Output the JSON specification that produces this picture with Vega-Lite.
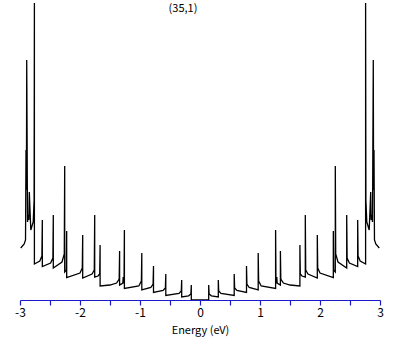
{
  "$schema": "https://vega.github.io/schema/vega-lite/v6.json",
  "width": 360,
  "height": 300,
  "autosize": {"type": "none"},
  "padding": {"left": 20, "top": 0, "right": 29, "bottom": 45},
  "background": "white",
  "title": {"text": "(35,1)", "offset": -14, "dx": -17, "fontSize": 11, "font": "Noto Sans CJK JP", "fontWeight": "normal", "color": "black"},
  "config": {"view": {"stroke": null}},
  "data": {"values": [
    {"i":1,"e":-2.988,"d":52},{"i":2,"e":-2.93,"d":56},{"i":3,"e":-2.908,"d":60},{"i":4,"e":-2.9,"d":150},{"i":5,"e":-2.893,"d":110},
    {"i":6,"e":-2.888,"d":240},{"i":7,"e":-2.875,"d":78},{"i":8,"e":-2.862,"d":85},{"i":9,"e":-2.852,"d":80},{"i":10,"e":-2.845,"d":108},
    {"i":11,"e":-2.82,"d":70},{"i":12,"e":-2.78,"d":78},{"i":13,"e":-2.765,"d":100},{"i":14,"e":-2.76,"d":297},{"i":15,"e":-2.76,"d":36},
    {"i":16,"e":-2.67,"d":39},{"i":17,"e":-2.635,"d":44},{"i":18,"e":-2.628,"d":80},{"i":19,"e":-2.628,"d":33.5},{"i":20,"e":-2.49,"d":37},
    {"i":21,"e":-2.452,"d":42},{"i":22,"e":-2.445,"d":85},{"i":23,"e":-2.445,"d":32},{"i":24,"e":-2.3,"d":38},{"i":25,"e":-2.262,"d":46},
    {"i":26,"e":-2.255,"d":134},{"i":27,"e":-2.255,"d":28},{"i":28,"e":-2.228,"d":30},{"i":29,"e":-2.222,"d":69},{"i":30,"e":-2.222,"d":22.5},
    {"i":31,"e":-2.0,"d":27},{"i":32,"e":-1.962,"d":32},{"i":33,"e":-1.955,"d":65},{"i":34,"e":-1.955,"d":22},{"i":35,"e":-1.8,"d":26},
    {"i":36,"e":-1.762,"d":30},{"i":37,"e":-1.755,"d":85},{"i":38,"e":-1.755,"d":23},{"i":39,"e":-1.7,"d":24},{"i":40,"e":-1.672,"d":26},
    {"i":41,"e":-1.665,"d":55},{"i":42,"e":-1.665,"d":14},{"i":43,"e":-1.5,"d":15},{"i":44,"e":-1.39,"d":17},{"i":45,"e":-1.347,"d":21},
    {"i":46,"e":-1.34,"d":49},{"i":47,"e":-1.34,"d":15},{"i":48,"e":-1.286,"d":17},{"i":49,"e":-1.28,"d":23},{"i":50,"e":-1.28,"d":17},
    {"i":51,"e":-1.266,"d":20},{"i":52,"e":-1.26,"d":70},{"i":53,"e":-1.26,"d":11.5},{"i":54,"e":-1.02,"d":14},{"i":55,"e":-0.977,"d":19},
    {"i":56,"e":-0.97,"d":47},{"i":57,"e":-0.97,"d":10},{"i":58,"e":-0.82,"d":12.5},{"i":59,"e":-0.782,"d":16},{"i":60,"e":-0.775,"d":34},
    {"i":61,"e":-0.775,"d":7.5},{"i":62,"e":-0.615,"d":9.5},{"i":63,"e":-0.577,"d":12},{"i":64,"e":-0.57,"d":26},{"i":65,"e":-0.57,"d":4.5},
    {"i":66,"e":-0.35,"d":6.5},{"i":67,"e":-0.312,"d":9},{"i":68,"e":-0.305,"d":20},{"i":69,"e":-0.305,"d":3},{"i":70,"e":-0.19,"d":4.2},
    {"i":71,"e":-0.152,"d":6},{"i":72,"e":-0.145,"d":15},{"i":73,"e":-0.145,"d":0},
    {"i":74,"e":0.145,"d":0},{"i":75,"e":0.145,"d":15},{"i":76,"e":0.152,"d":6},{"i":77,"e":0.19,"d":4.2},{"i":78,"e":0.305,"d":3},
    {"i":79,"e":0.305,"d":20},{"i":80,"e":0.312,"d":9},{"i":81,"e":0.35,"d":6.5},{"i":82,"e":0.57,"d":4.5},{"i":83,"e":0.57,"d":26},
    {"i":84,"e":0.577,"d":12},{"i":85,"e":0.615,"d":9.5},{"i":86,"e":0.775,"d":7.5},{"i":87,"e":0.775,"d":34},{"i":88,"e":0.782,"d":16},
    {"i":89,"e":0.82,"d":12.5},{"i":90,"e":0.97,"d":10},{"i":91,"e":0.97,"d":47},{"i":92,"e":0.977,"d":19},{"i":93,"e":1.02,"d":14},
    {"i":94,"e":1.26,"d":11.5},{"i":95,"e":1.26,"d":70},{"i":96,"e":1.266,"d":20},{"i":97,"e":1.28,"d":17},{"i":98,"e":1.28,"d":23},
    {"i":99,"e":1.286,"d":17},{"i":100,"e":1.34,"d":15},{"i":101,"e":1.34,"d":49},{"i":102,"e":1.347,"d":21},{"i":103,"e":1.39,"d":17},
    {"i":104,"e":1.5,"d":15},{"i":105,"e":1.665,"d":14},{"i":106,"e":1.665,"d":55},{"i":107,"e":1.672,"d":26},{"i":108,"e":1.7,"d":24},
    {"i":109,"e":1.755,"d":23},{"i":110,"e":1.755,"d":85},{"i":111,"e":1.762,"d":30},{"i":112,"e":1.8,"d":26},{"i":113,"e":1.955,"d":22},
    {"i":114,"e":1.955,"d":65},{"i":115,"e":1.962,"d":32},{"i":116,"e":2.0,"d":27},{"i":117,"e":2.222,"d":22.5},{"i":118,"e":2.222,"d":69},
    {"i":119,"e":2.228,"d":30},{"i":120,"e":2.255,"d":28},{"i":121,"e":2.255,"d":134},{"i":122,"e":2.262,"d":46},{"i":123,"e":2.3,"d":38},
    {"i":124,"e":2.445,"d":32},{"i":125,"e":2.445,"d":85},{"i":126,"e":2.452,"d":42},{"i":127,"e":2.49,"d":37},{"i":128,"e":2.628,"d":33.5},
    {"i":129,"e":2.628,"d":80},{"i":130,"e":2.635,"d":44},{"i":131,"e":2.67,"d":39},{"i":132,"e":2.76,"d":36},{"i":133,"e":2.76,"d":297},
    {"i":134,"e":2.765,"d":100},{"i":135,"e":2.78,"d":78},{"i":136,"e":2.82,"d":70},{"i":137,"e":2.845,"d":108},{"i":138,"e":2.852,"d":80},
    {"i":139,"e":2.862,"d":85},{"i":140,"e":2.875,"d":78},{"i":141,"e":2.888,"d":240},{"i":142,"e":2.893,"d":110},{"i":143,"e":2.9,"d":150},
    {"i":144,"e":2.908,"d":60},{"i":145,"e":2.93,"d":56},{"i":146,"e":2.988,"d":52}
  ]},
  "mark": {"type": "line", "color": "black", "strokeWidth": 1.3, "clip": true},
  "encoding": {
    "x": {
      "field": "e", "type": "quantitative",
      "scale": {"domain": [-3, 3], "nice": false, "zero": false},
      "axis": {
        "title": "Energy (eV)",
        "values": [-3, -2.5, -2, -1.5, -1, -0.5, 0, 0.5, 1, 1.5, 2, 2.5, 3],
        "labelExpr": "datum.value % 1 == 0 ? toString(datum.value) : ''",
        "grid": false,
        "domainColor": "#1a1acc", "tickColor": "#1a1acc", "domainWidth": 1.2, "tickWidth": 1.2,
        "tickSize": 5, "labelPadding": 2, "labelFontSize": 12, "labelColor": "black",
        "labelFont": "Noto Sans CJK JP", "titleFont": "Noto Sans CJK JP",
        "titleFontSize": 11, "titleFontWeight": "normal", "titleColor": "black", "titlePadding": 6,
        "labelFlush": false, "labelOverlap": false, "zindex": 1
      }
    },
    "y": {
      "field": "d", "type": "quantitative",
      "scale": {"domain": [0, 300], "nice": false},
      "axis": null
    },
    "order": {"field": "i"}
  }
}
